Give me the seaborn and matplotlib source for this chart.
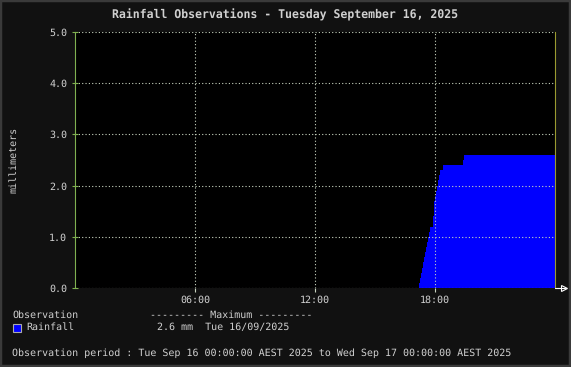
import matplotlib
matplotlib.use('Agg')
import matplotlib.pyplot as plt
import seaborn as sns
import pandas as pd
from matplotlib.patches import Rectangle

# ---- data (hours since midnight, cumulative rainfall in mm) ----
hours = [17.15, 17.20, 17.25, 17.30, 17.35, 17.40, 17.45, 17.50, 17.55, 17.60,
         17.65, 17.70, 17.75, 17.90, 17.93, 17.96, 18.00, 18.05, 18.10, 18.15,
         18.20, 18.25, 18.42, 19.40, 19.45, 24.00]
rain_mm = [0.0, 0.1, 0.2, 0.3, 0.4, 0.5, 0.6, 0.7, 0.8, 0.9,
           1.0, 1.1, 1.2, 1.4, 1.6, 1.7, 1.8, 1.9, 2.0, 2.1,
           2.2, 2.3, 2.4, 2.5, 2.6, 2.6]
x_ticks = [6, 12, 18]
x_tick_labels = ['06:00', '12:00', '18:00']
y_ticks = [0, 1, 2, 3, 4, 5]
y_tick_labels = ['0.0', '1.0', '2.0', '3.0', '4.0', '5.0']

title = 'Rainfall Observations - Tuesday September 16, 2025'
y_label = 'millimeters'
legend_header = 'Observation'
max_header = '--------- Maximum ---------'
series_name = 'Rainfall'
max_text = '2.6 mm  Tue 16/09/2025'
period_text = ('Observation period : Tue Sep 16 00:00:00 AEST 2025 to '
               'Wed Sep 17 00:00:00 AEST 2025')

W, H = 571, 367
TXT = '#d0d0d0'
BLUE = '#0000ff'

sns.set_theme(style='dark')
plt.rcParams['font.family'] = ['DejaVu Sans Mono']
plt.rcParams['text.hinting'] = 'no_hinting'

fs = 7.16

fig = plt.figure(figsize=(W / 100, H / 100), dpi=100, facecolor='#111111')
ax = fig.add_axes([75 / W, 1 - 288 / H, 480 / W, 256 / H])
ax.set_facecolor('black')

df = pd.DataFrame({'hour': hours, 'rain': rain_mm})
ax.fill_between(df['hour'], df['rain'], step='post', color=BLUE, linewidth=0, zorder=1)
sns.lineplot(data=df, x='hour', y='rain', drawstyle='steps-post', color=BLUE,
             lw=0.6, estimator=None, ax=ax, zorder=1)

ax.set_xlim(0, 24)
ax.set_ylim(0, 5)
ax.set_xticks(x_ticks)
ax.set_xticklabels(x_tick_labels)
ax.set_yticks(y_ticks)
ax.set_yticklabels(y_tick_labels)
ax.set_xlabel('')
ax.set_ylabel(y_label, color=TXT, fontsize=fs, labelpad=22)

ax.grid(True, color='#c8d4c0', linestyle=(0, (1, 2)), linewidth=0.8, zorder=3)
ax.set_axisbelow(False)

ax.tick_params(axis='y', left=True, colors='#7fb050', labelcolor=TXT, labelsize=fs,
               direction='inout', length=5, width=0.8, pad=3.2)
ax.tick_params(axis='x', bottom=True, colors='#c8d4c0', labelcolor=TXT, labelsize=fs,
               direction='out', length=3, width=0.8, pad=2.5)

for s in ['top', 'bottom']:
    ax.spines[s].set_visible(False)
ax.spines['left'].set_color('#7fb050')
ax.spines['left'].set_linewidth(0.8)
ax.spines['right'].set_color('#9a9a30')
ax.spines['right'].set_linewidth(0.8)

# axis arrow at the end of the x axis
ax.plot([1.0, 1.02], [0, 0], transform=ax.transAxes, color='white', lw=0.8,
        clip_on=False, zorder=4)
ax.plot([1.018], [0], transform=ax.transAxes, marker='>', markersize=5,
        mfc='none', mec='white', mew=0.8, clip_on=False, zorder=4)

# title
fig.text(285.5 / W, 1 - 15 / H, title, ha='center', va='center', color=TXT,
         fontsize=8.3, fontweight='bold')

# legend area
fig.text(12 / W, 1 - 315 / H, legend_header, ha='left', va='center', color=TXT, fontsize=fs)
fig.text(150 / W, 1 - 315 / H, max_header, ha='left', va='center', color=TXT, fontsize=fs)
fig.patches.append(Rectangle((13 / W, 1 - 332 / H), 8 / W, 8 / H, transform=fig.transFigure,
                             facecolor=BLUE, edgecolor='#aaaaaa', linewidth=0.8))
fig.text(26.5 / W, 1 - 327.5 / H, series_name, ha='left', va='center', color=TXT, fontsize=fs)
fig.text(157 / W, 1 - 327.5 / H, max_text, ha='left', va='center', color=TXT, fontsize=fs)
fig.text(12 / W, 1 - 353.5 / H, period_text, ha='left', va='center', color=TXT, fontsize=fs)

# outer frame
fig.patches.append(Rectangle((0, 0), 1, 1, transform=fig.transFigure, fill=False,
                             edgecolor='#3a3a3a', linewidth=3.2))

fig.savefig('out.png', dpi=100, facecolor=fig.get_facecolor())
